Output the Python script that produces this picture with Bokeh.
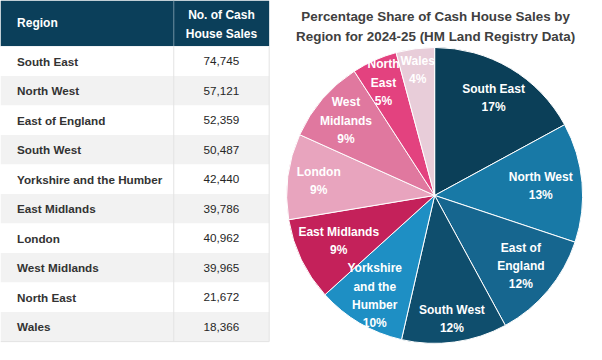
import numpy as np
from bokeh.plotting import figure
from bokeh.models import Range1d, ColumnDataSource
from bokeh.embed import file_html
from bokeh.resources import INLINE
from bokeh.core.properties import value

# ---- data ----
regions = ["South East", "North West", "East of England", "South West",
           "Yorkshire and the Humber", "East Midlands", "London",
           "West Midlands", "North East", "Wales"]
sales = [74745, 57121, 52359, 50487, 42440, 39786, 40962, 39965, 21672, 18366]
pie_names = ["South East", "North West", "East of\nEngland", "South West",
             "Yorkshire\nand the\nHumber", "East Midlands", "London",
             "West\nMidlands", "North\nEast", "Wales"]
pie_colors = ["#0b3f58", "#1879a6", "#16668f", "#0f4e6d", "#1e8fc4",
              "#c4215a", "#e8a4be", "#e0789f", "#e3427f", "#e8cdd9"]
title_lines = ["Percentage Share of Cash House Sales by",
               "Region for 2024-25 (HM Land Registry Data)"]
header = ["Region", "No. of Cash\nHouse Sales"]

# layout only: label distance from centre as fraction of radius
label_rfrac = [0.78, 0.72, 0.76, 0.86, 0.80, 0.72, 0.79, 0.79, 0.85, 0.87]

FONT = value("Liberation Sans")
H = 360

p = figure(width=586, height=344, x_range=Range1d(0, 602), y_range=Range1d(0, H),
           output_backend="svg", toolbar_location=None, min_border=0)
p.axis.visible = False
p.grid.visible = False
p.outline_line_color = None
p.background_fill_color = "white"
p.border_fill_color = "white"

# ---- table ----
x0, xdiv, x1 = 0, 178, 276
head_top, head_bot = 0, 48
tab_bot = 357
n = len(regions)
rh = (tab_bot - head_bot) / n

p.quad(left=[x0], right=[x1], top=[H - head_top], bottom=[H - head_bot],
       fill_color="#0b3f5a", line_color=None)
p.segment(x0=[xdiv], x1=[xdiv], y0=[H - head_top], y1=[H - head_bot],
          line_color="#6f8fa0", line_width=1)

idx = np.arange(n)
tops = H - (head_bot + idx * rh)
bots = H - (head_bot + (idx + 1) * rh)
fills = ["white" if i % 2 == 0 else "#f2f2f2" for i in idx]
p.quad(left=x0, right=x1, top=tops, bottom=bots, fill_color=fills, line_color=None)
p.segment(x0=[xdiv], x1=[xdiv], y0=[H - head_bot], y1=[H - tab_bot],
          line_color="#e3e3e3", line_width=1)
p.segment(x0=[x1], x1=[x1], y0=[H - head_bot], y1=[H - tab_bot],
          line_color="#e3e3e3", line_width=1)
p.segment(x0=[x0], x1=[x1], y0=[H - tab_bot], y1=[H - tab_bot],
          line_color="#e3e3e3", line_width=1)

p.text(x=[17], y=[H - 24], text=[header[0]], text_font=FONT, text_font_style="bold",
       text_font_size="12px", text_color="white", text_baseline="middle", text_align="left")
p.text(x=[227], y=[H - 25], text=[header[1]], text_font=FONT, text_font_style="bold",
       text_font_size="12px", text_color="white", text_baseline="middle", text_align="center",
       text_line_height=1.35)

mids = (tops + bots) / 2
p.text(x=17, y=mids, text=regions, text_font=FONT, text_font_style="bold",
       text_font_size="11.7px", text_color="#333333", text_baseline="middle", text_align="left")
p.text(x=227, y=mids, text=[f"{v:,}" for v in sales], text_font=FONT,
       text_font_size="11.7px", text_color="#262626", text_baseline="middle", text_align="center")

# ---- pie ----
cx, cy, r = 446, H - 204, 152
vals = np.array(sales, dtype=float)
frac = vals / vals.sum()
cum = np.concatenate([[0], np.cumsum(frac)])
start = np.pi / 2 - cum[:-1] * 2 * np.pi
end = np.pi / 2 - cum[1:] * 2 * np.pi
src = ColumnDataSource(dict(start=start, end=end, color=pie_colors))
p.wedge(x=cx, y=cy, radius=r, start_angle="start", end_angle="end", direction="clock",
        fill_color="color", line_color="white", line_width=1, source=src)

mid = (start + end) / 2
lr = np.array(label_rfrac) * r
labels = [f"{nm}\n{round(f * 100)}%" for nm, f in zip(pie_names, frac)]
p.text(x=cx + lr * np.cos(mid), y=cy + lr * np.sin(mid), text=labels, text_font=FONT,
       text_font_style="bold", text_font_size="12px", text_color="white",
       text_align="center", text_baseline="middle", text_line_height=1.3)

# ---- title ----
p.text(x=[447, 447], y=[H - 17, H - 38], text=title_lines, text_font=FONT,
       text_font_style="bold", text_font_size="13.4px", text_color="#404040",
       text_align="center", text_baseline="middle")

open("out.html", "w").write(file_html(p, INLINE))
